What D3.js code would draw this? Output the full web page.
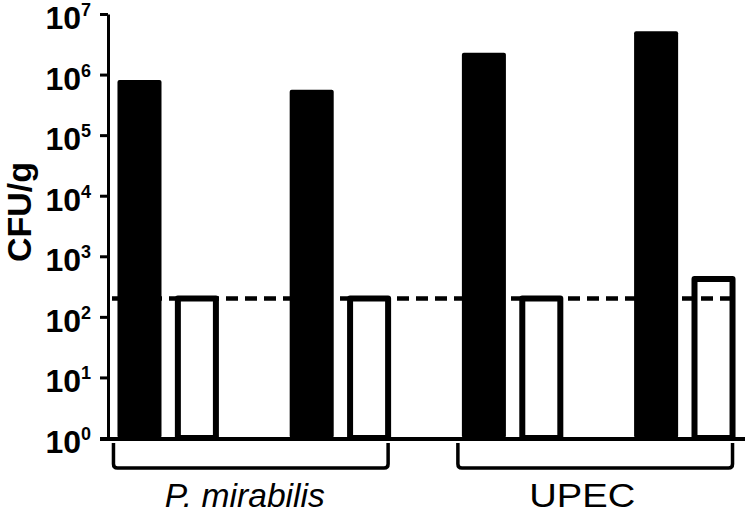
<!DOCTYPE html>
<html>
<head>
<meta charset="utf-8">
<script src="https://cdn.jsdelivr.net/npm/d3@7"></script>
<style>
  body { margin: 0; background: #fff; }
  svg { display: block; font-family: "Liberation Sans", Arial, sans-serif; }
</style>
</head>
<body>
<svg id="chart" width="747" height="517"></svg>
<script>
// values
var groups = ["P. mirabilis", "UPEC"];
var filledValues = [8.1e5, 5.6e5, 2.3e6, 5.2e6];   // black bars
var openValues = [200, 200, 200, 420];             // white bars
var detectionLimit = 200;
var tickExponents = [0, 1, 2, 3, 4, 5, 6, 7];

// 11 slots: pair, gap, pair, gap, pair, gap, pair
var slots = [];
var pairs = [];
filledValues.forEach(function(v, i) {
    if (i > 0) slots.push("gap" + i);
    slots.push("f" + i);
    slots.push("o" + i);
    pairs.push({ i: i, group: groups[Math.floor(i / 2)], filled: v, open: openValues[i] });
});

var svg = d3.select("#chart");
var axisX = 108, baseY = 438;

var y = d3.scaleLog().domain([1, 1e7]).range([baseY, 14]);
var x = d3.scaleBand().domain(slots).range([axisX, 745])
    .paddingInner(0.233).paddingOuter(0.165);
var bw = x.bandwidth();

// y axis
var yAxis = svg.append("g")
    .attr("transform", "translate(" + axisX + ",0)")
    .call(d3.axisLeft(y)
        .tickValues(tickExponents.map(function(e) { return Math.pow(10, e); }))
        .tickSize(8).tickSizeOuter(0).tickFormat(""));
yAxis.select(".domain").attr("stroke", "#000").attr("stroke-width", 3);
yAxis.selectAll(".tick line").attr("stroke", "#000").attr("stroke-width", 3);

var labels = svg.append("g").attr("font-weight", "bold").attr("fill", "#000");
tickExponents.forEach(function(e) {
    var t = labels.append("text")
        .attr("x", axisX - 17)
        .attr("y", y(Math.pow(10, e)) + 15)
        .attr("text-anchor", "end")
        .attr("font-size", 32);
    t.append("tspan").text("10");
    t.append("tspan").attr("font-size", 18).attr("dy", -13).text(e);
});

svg.append("text")
    .attr("transform", "translate(31,212) rotate(-90)")
    .attr("text-anchor", "middle")
    .attr("font-weight", "bold")
    .attr("font-size", 34)
    .text("CFU/g");

// bars
svg.selectAll("rect.filled").data(pairs).enter().append("rect")
    .attr("class", "filled")
    .attr("x", function(d) { return x("f" + d.i); })
    .attr("y", function(d) { return y(d.filled); })
    .attr("width", bw)
    .attr("height", function(d) { return baseY - y(d.filled); })
    .attr("rx", 2)
    .attr("fill", "#000");

svg.selectAll("rect.open").data(pairs).enter().append("rect")
    .attr("class", "open")
    .attr("x", function(d) { return x("o" + d.i) + 3; })
    .attr("y", function(d) { return y(d.open); })
    .attr("width", bw - 6)
    .attr("height", function(d) { return baseY - y(d.open); })
    .attr("fill", "#fff")
    .attr("stroke", "#000")
    .attr("stroke-width", 6)
    .attr("stroke-linejoin", "round");

// baseline
svg.append("line")
    .attr("x1", 100).attr("x2", 745)
    .attr("y1", baseY + 1).attr("y2", baseY + 1)
    .attr("stroke", "#000").attr("stroke-width", 4);

// detection limit
svg.append("line")
    .attr("x1", 112).attr("x2", 738)
    .attr("y1", y(detectionLimit)).attr("y2", y(detectionLimit))
    .attr("stroke", "#000").attr("stroke-width", 4.5)
    .attr("stroke-dasharray", "12,7");

// group brackets and labels
var labelLen = [160, 106];
var labelShift = [-6, -13];
groups.forEach(function(g, gi) {
    var x0 = x("f" + (gi * 2)) - 4;
    var x1 = x("o" + (gi * 2 + 1)) + bw - 3;
    var top = 443, bot = 468, r = 4;
    svg.append("path")
        .attr("d", "M" + x0 + "," + top + "V" + (bot - r) + "Q" + x0 + "," + bot + " " + (x0 + r) + "," + bot +
            "H" + (x1 - r) + "Q" + x1 + "," + bot + " " + x1 + "," + (bot - r) + "V" + top)
        .attr("fill", "none").attr("stroke", "#000").attr("stroke-width", 3.5);
    svg.append("text")
        .attr("x", (x0 + x1) / 2 + labelShift[gi])
        .attr("y", 507)
        .attr("text-anchor", "middle")
        .attr("font-size", 33)
        .attr("font-style", gi === 0 ? "italic" : "normal")
        .attr("textLength", labelLen[gi])
        .attr("lengthAdjust", "spacingAndGlyphs")
        .text(g);
});
</script>
</body>
</html>
